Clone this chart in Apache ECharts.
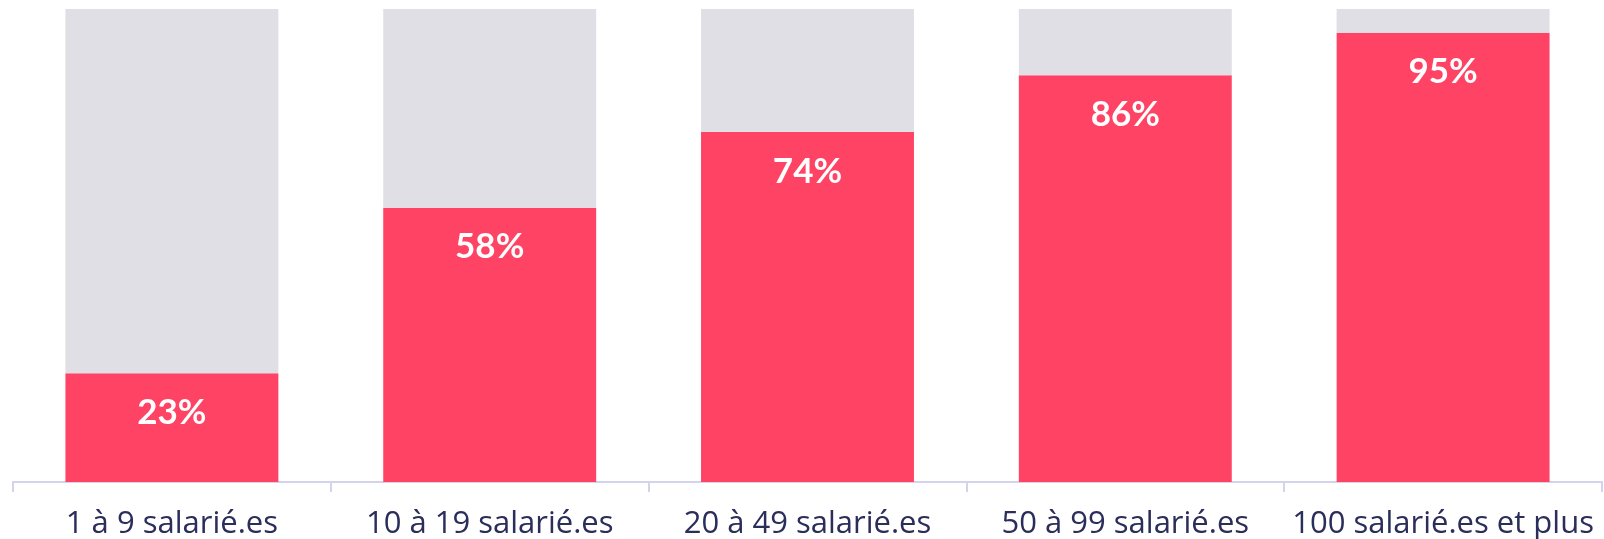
<!DOCTYPE html>
<html>
<head>
<meta charset="utf-8">
<script src="https://cdn.jsdelivr.net/npm/echarts@6/dist/echarts.min.js"></script>
<style>
  html, body { margin: 0; padding: 0; background: #fff; }
  #chart { width: 1604px; height: 539px; }
</style>
</head>
<body>
<div id="chart"></div>
<script>
const categories = ['1 à 9 salarié.es', '10 à 19 salarié.es', '20 à 49 salarié.es', '50 à 99 salarié.es', '100 salarié.es et plus']
const shareValues = [23, 58, 74, 86, 95]
const restValues = [77, 42, 26, 14, 5]

const chart = echarts.init(document.getElementById('chart'))
chart.setOption({
  animation: false,
  grid: {
    left: 13,
    right: 2,
    top: 9,
    bottom: 57,
    outerBoundsMode: 'none'
  },
  xAxis: {
    type: 'category',
    data: categories,
    axisLine: { lineStyle: { color: '#d3d3ec', width: 2 } },
    axisTick: { show: true, length: 10, lineStyle: { color: '#d3d3ec', width: 2 } },
    axisLabel: {
      color: '#2b2d5b',
      fontFamily: 'Open Sans',
      fontSize: 31,
      margin: 27,
      interval: 0
    }
  },
  yAxis: {
    type: 'value',
    min: 0,
    max: 100,
    show: false
  },
  series: [
    {
      name: 'share',
      type: 'bar',
      stack: 'total',
      data: shareValues,
      barCategoryGap: '33%',
      itemStyle: { color: '#ff4364' },
      label: {
        show: true,
        position: 'insideTop',
        distance: 22,
        formatter: '{c}%',
        color: '#ffffff',
        fontFamily: 'Lato',
        fontWeight: 'bold',
        fontSize: 35
      }
    },
    {
      name: 'rest',
      type: 'bar',
      stack: 'total',
      data: restValues,
      itemStyle: { color: '#dfdfe5' }
    }
  ]
})
</script>
</body>
</html>
